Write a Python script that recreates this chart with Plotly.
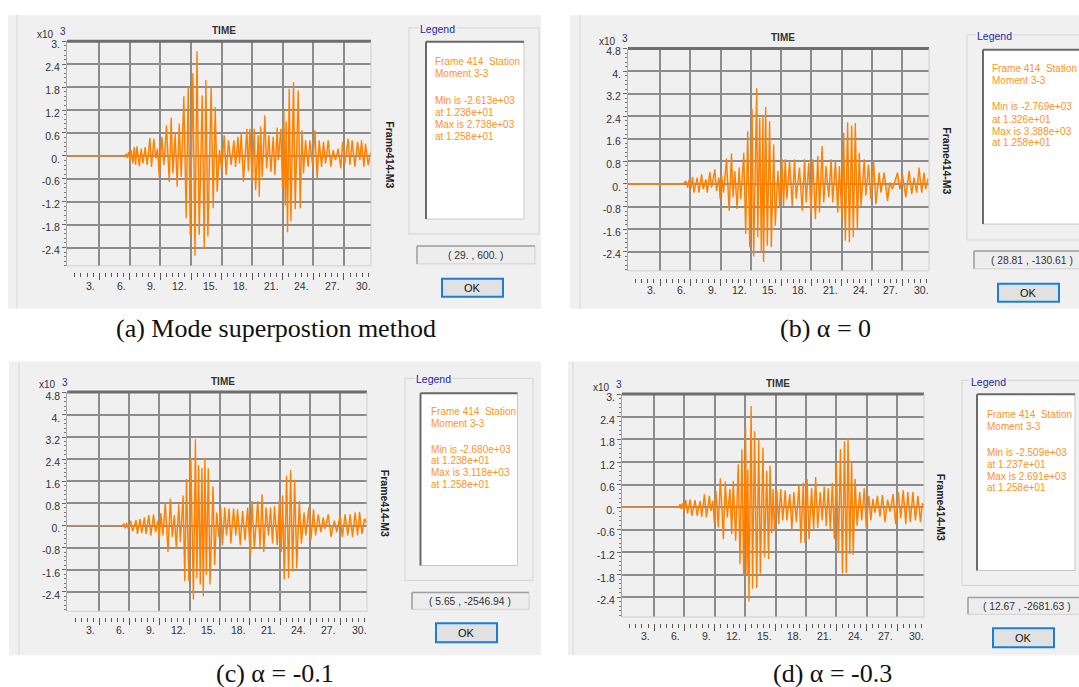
import plotly.graph_objects as go

W, H = 1079, 687

# ---------------- data (values in x10^3) ----------------
time_a = [-0.17, 5.5, 5.64, 5.74, 5.87, 6.00, 6.13, 6.29, 6.42, 6.56, 6.69, 6.92, 7.11, 7.27, 7.50, 7.70,
          7.96, 8.12, 8.35, 8.55, 8.71, 8.88, 9.14, 9.33, 9.59, 9.86, 10.05, 10.22, 10.44, 10.64, 10.84,
          11.03, 11.29, 11.52, 11.72, 11.92, 12.18, 12.38, 12.58, 12.80, 13.09, 13.29, 13.45, 13.65, 13.97,
          14.17, 14.37, 14.56, 14.79, 14.99, 15.25, 15.44, 15.67, 15.93, 16.20, 16.36, 16.59, 16.75, 16.92,
          17.14, 17.47, 17.62, 17.77, 18.00, 18.20, 18.33, 18.59, 18.69, 18.82, 18.98, 19.24, 19.41, 19.63,
          19.83, 20.06, 20.22, 20.45, 20.55, 20.81, 20.97, 21.10, 21.24, 21.33, 21.46, 21.63, 21.79, 22.05,
          22.22, 22.51, 22.71, 22.87, 23.03, 23.23, 23.49, 23.65, 23.92, 24.14, 24.37, 24.57, 24.80, 24.99,
          25.19, 25.45, 25.71, 25.94, 26.17, 26.43, 26.69, 26.86, 27.08, 27.41, 27.58, 27.80, 28.07, 28.33,
          28.56, 28.72, 28.95, 29.11, 29.37, 29.63]
m3_a = [0, 0, 0.05, -0.05, 0.10, -0.12, 0.15, -0.20, 0.23, -0.24, 0.25, -0.27, 0.19, -0.20, 0.23, -0.24,
        0.47, -0.29, 0.45, -0.07, 0.19, -0.55, 0.50, -0.24, 0.80, -0.68, 1.00, -0.46, 0.58, -0.81, 0.84,
        -0.55, 1.56, -1.63, 1.82, -2.07, 2.17, -2.613, 2.738, -2.07, 1.58, -2.44, 1.99, -2.11, 1.80,
        -1.37, 1.28, -0.94, 0.15, -0.37, 0.54, -0.50, 0.41, -0.24, 0.41, -0.29, 0.50, -0.20, 0.58,
        -0.68, 0.71, -0.40, 0.71, -0.68, 0.71, -0.90, 0.54, -1.07, 0.77, -0.55, 1.06, -0.33, 0.54,
        -0.42, 0.50, -0.50, 0.74, -0.11, 0.71, -0.85, 1.19, -1.30, 0.90, -2.00, 1.76, -1.72, 1.93,
        -1.40, 1.71, -1.37, 0.67, -0.46, 0.41, -0.29, 0.41, -0.24, 0.67, -0.59, 0.41, -0.29, 0.37,
        -0.20, 0.41, -0.29, 0.15, -0.11, 0.19, -0.33, 0.37, -0.20, 0.45, -0.24, 0.41, -0.29, 0.37,
        -0.11, 0.41, -0.29, 0.32, -0.24, 0.10]

time_b = [-0.17, 5.3, 5.57, 5.74, 5.90, 6.07, 6.23, 6.36, 6.69, 6.86, 7.12, 7.28, 7.55, 7.68, 7.94, 8.11,
          8.43, 8.60, 8.83, 8.96, 9.09, 9.29, 9.59, 9.85, 10.08, 10.24, 10.41, 10.64, 10.84, 11.00, 11.30,
          11.49, 11.69, 11.89, 12.12, 12.28, 12.58, 12.68, 12.88, 13.04, 13.20, 13.26, 13.47, 13.63, 13.86,
          14.03, 14.26, 14.42, 14.68, 14.85, 15.08, 15.24, 15.41, 15.57, 15.84, 16.10, 16.33, 16.49, 16.82,
          17.09, 17.32, 17.48, 17.74, 17.97, 18.14, 18.40, 18.63, 18.80, 19.06, 19.22, 19.45, 19.72, 19.95,
          20.11, 20.38, 20.61, 20.77, 21.03, 21.20, 21.36, 21.59, 21.76, 21.99, 22.15, 22.35, 22.55, 22.74,
          22.91, 23.24, 23.40, 23.66, 23.89, 24.16, 24.39, 24.72, 24.88, 25.21, 25.54, 25.77, 26.03, 26.53,
          26.76, 27.02, 27.35, 27.68, 27.94, 28.17, 28.43, 28.66, 28.93, 29.16, 29.32, 29.55]
m3_b = [0, 0, 0.10, -0.13, 0.16, -0.16, 0.25, -0.31, 0.22, -0.31, 0.34, -0.19, 0.16, -0.31, 0.42, -0.13,
        0.52, -0.25, 0.22, -0.54, 0.34, -0.31, 0.90, -0.95, 1.08, -0.48, 0.46, -0.89, 0.58, -0.54, 1.10,
        -1.77, 1.87, -2.24, 2.66, -2.57, 3.388, -1.89, 2.34, -2.42, 2.42, -2.769, 2.73, -2.19, 2.22,
        -2.24, 1.40, -1.48, 0.46, -0.78, 0.89, -0.78, 0.87, -0.54, 0.81, -0.78, 0.87, -0.52, 0.58,
        -0.95, 0.87, -0.66, 0.75, -1.07, 0.87, -1.25, 0.99, -1.01, 1.34, -0.66, 0.63, -0.48, 0.87,
        -0.66, 0.81, -1.01, 0.63, -1.25, 1.81, -2.01, 2.19, -2.07, 2.07, -1.89, 2.16, -1.60, 1.10,
        -0.78, 0.87, -0.42, 0.69, -0.54, 0.81, -0.72, 0.40, -0.31, 0.40, -0.60, 0.05, -0.19, 0.40,
        -0.19, 0.34, -0.48, 0.46, -0.36, 0.22, -0.31, 0.58, -0.31, 0.40, -0.19, 0.19]

time_c = [-0.17, 5.3, 5.46, 5.60, 5.73, 5.90, 6.13, 6.33, 6.67, 6.80, 7.07, 7.24, 7.50, 7.67, 7.94, 8.14,
          8.41, 8.61, 8.84, 8.98, 9.14, 9.34, 9.58, 9.85, 10.08, 10.28, 10.48, 10.68, 10.92, 11.08, 11.35,
          11.52, 11.69, 11.92, 12.12, 12.38, 12.58, 12.72, 12.89, 13.06, 13.22, 13.36, 13.52, 13.66, 13.86,
          14.03, 14.33, 14.49, 14.70, 14.90, 15.10, 15.26, 15.50, 15.67, 15.93, 16.10, 16.37, 16.60, 16.77,
          17.04, 17.27, 17.51, 17.77, 18.04, 18.21, 18.44, 18.78, 19.01, 19.21, 19.38, 19.61, 19.85, 20.05,
          20.25, 20.45, 20.72, 20.95, 21.12, 21.25, 21.42, 21.65, 21.85, 22.05, 22.25, 22.45, 22.66, 22.92,
          23.12, 23.39, 23.56, 23.86, 24.06, 24.33, 24.53, 24.80, 25.06, 25.30, 25.47, 25.80, 26.07, 26.40,
          26.64, 26.97, 27.20, 27.47, 27.74, 27.97, 28.21, 28.47, 28.71, 28.91, 29.15, 29.40, 29.63]
m3_c = [0, 0, 0.06, -0.10, 0.10, -0.12, 0.18, -0.21, 0.20, -0.30, 0.24, -0.27, 0.30, -0.30, 0.38, -0.36,
        0.41, -0.24, 0.18, -0.50, 0.45, -0.36, 0.83, -0.95, 0.97, -0.41, 0.38, -0.83, 0.77, -0.59, 1.09,
        -2.01, 1.68, -2.01, 2.43, -2.680, 3.118, -1.90, 2.19, -2.13, 2.07, -2.55, 2.43, -1.78, 2.07,
        -2.13, 1.42, -1.42, 0.47, -0.41, 0.65, -0.71, 0.65, -0.36, 0.62, -0.65, 0.62, -0.36, 0.59,
        -0.71, 0.53, -0.53, 0.65, -1.07, 0.89, -0.83, 0.89, -0.77, 1.13, -0.95, 0.65, -0.36, 0.65,
        -0.65, 0.71, -0.71, 0.95, -0.95, 1.09, -1.95, 1.80, -1.90, 2.01, -1.66, 1.66, -1.54, 0.89,
        -0.65, 0.47, -0.36, 0.65, -0.53, 0.59, -0.36, 0.41, -0.24, 0.30, -0.12, 0.41, -0.41, 0.18,
        -0.24, 0.36, -0.41, 0.41, -0.36, 0.41, -0.41, 0.47, -0.36, 0.50, -0.30, 0.25, 0.10]

time_d = [-0.17, 5.45, 5.57, 5.67, 5.80, 5.93, 6.13, 6.30, 6.56, 6.72, 7.05, 7.25, 7.54, 7.70, 7.97, 8.16,
          8.46, 8.62, 8.79, 8.95, 9.11, 9.34, 9.54, 9.84, 10.03, 10.23, 10.49, 10.66, 10.82, 11.05, 11.31,
          11.48, 11.67, 11.84, 12.03, 12.18, 12.25, 12.37, 12.58, 12.72, 12.92, 13.13, 13.33, 13.49, 13.75,
          13.90, 14.12, 14.30, 14.45, 14.60, 14.75, 14.88, 15.11, 15.30, 15.50, 15.70, 15.95, 16.10, 16.40,
          16.60, 16.80, 17.05, 17.30, 17.50, 17.72, 17.90, 18.10, 18.30, 18.55, 18.75, 18.95, 19.15, 19.40,
          19.60, 19.80, 20.00, 20.20, 20.40, 20.60, 20.80, 21.00, 21.20, 21.40, 21.60, 21.80, 21.98, 22.15,
          22.32, 22.50, 22.66, 22.85, 23.05, 23.30, 23.50, 23.75, 23.95, 24.20, 24.40, 24.60, 24.80, 25.05,
          25.30, 25.55, 25.80, 26.05, 26.30, 26.60, 26.85, 27.10, 27.35, 27.60, 27.85, 28.05, 28.30, 28.55,
          28.80, 29.05, 29.30, 29.50, 29.63]
m3_d = [0, 0, 0.08, -0.05, 0.10, -0.08, 0.19, -0.17, 0.21, -0.23, 0.19, -0.23, 0.17, -0.26, 0.34, -0.27,
        0.30, -0.10, 0.17, -0.41, 0.43, -0.54, 0.77, -0.85, 0.68, -0.27, 0.48, -0.72, 0.70, -0.89, 1.14,
        -1.51, 1.54, -1.82, 2.15, -1.80, 1.00, -2.509, 2.691, -2.17, 2.02, -2.15, 1.80, -1.77, 1.58,
        -1.33, 0.96, -1.38, 1.10, -0.70, 0.48, -0.62, 0.46, -0.45, 0.48, -0.35, 0.45, -0.35, 0.35,
        -0.60, 0.40, -0.40, 0.60, -0.95, 0.65, -0.95, 0.75, -0.85, 0.50, -0.60, 0.80, -0.55, 0.40,
        -0.35, 0.55, -0.50, 0.50, -0.60, 0.65, -0.85, 1.15, -1.20, 1.55, -1.76, 1.75, -1.75, 1.83,
        -1.25, 1.20, -1.27, 0.75, -0.50, 0.40, -0.35, 0.50, -0.55, 0.30, -0.35, 0.22, -0.15, 0.30,
        -0.25, 0.32, -0.40, 0.20, -0.12, 0.35, -0.45, 0.40, -0.30, 0.45, -0.45, 0.40, -0.40, 0.40,
        -0.35, 0.30, -0.40, 0.10, 0.05]

ytick_vals_small = [3.0, 2.4, 1.8, 1.2, 0.6, 0.0, -0.6, -1.2, -1.8, -2.4]
ytick_text_small = ["3.", "2.4", "1.8", "1.2", "0.6", "0.", "-0.6", "-1.2", "-1.8", "-2.4"]
ytick_vals_big = [4.8, 4.0, 3.2, 2.4, 1.6, 0.8, 0.0, -0.8, -1.6, -2.4]
ytick_text_big = ["4.8", "4.", "3.2", "2.4", "1.6", "0.8", "0.", "-0.8", "-1.6", "-2.4"]
xgrid_vals = [3, 6, 9, 12, 15, 18, 21, 24, 27]
xlabel_vals = [3, 6, 9, 12, 15, 18, 21, 24, 27, 30]
xlabel_text = ["3.", "6.", "9.", "12.", "15.", "18.", "21.", "24.", "27.", "30."]
ruler_minor = [0.6, 1.2, 1.8, 2.4, 3.6, 4.2, 4.8, 5.4, 6.6, 7.2, 7.8, 8.4, 9.6, 10.2, 10.8, 11.4,
               12.6, 13.2, 13.8, 14.4, 15.6, 16.2, 16.8, 17.4, 18.6, 19.2, 19.8, 20.4, 21.6, 22.2,
               22.8, 23.4, 24.6, 25.2, 25.8, 26.4, 27.6, 28.2, 28.8, 29.4]

legend_a = ["Frame 414\u00a0\u00a0Station", "Moment 3-3", "Min is -2.613e+03", "at 1.238e+01", "Max is 2.738e+03", "at 1.258e+01"]
legend_b = ["Frame 414\u00a0\u00a0Station", "Moment 3-3", "Min is -2.769e+03", "at 1.326e+01", "Max is 3.388e+03", "at 1.258e+01"]
legend_c = ["Frame 414\u00a0\u00a0Station", "Moment 3-3", "Min is -2.680e+03", "at 1.238e+01", "Max is 3.118e+03", "at 1.258e+01"]
legend_d = ["Frame 414\u00a0\u00a0Station", "Moment 3-3", "Min is -2.509e+03", "at 1.237e+01", "Max is 2.691e+03", "at 1.258e+01"]
coord_texts = ["( 29. , 600. )", "( 28.81 , -130.61 )", "( 5.65 , -2546.94 )", "( 12.67 , -2681.63 )"]
captions = ["(a) Mode superpostion method", "(b) \u03b1 = 0", "(c) \u03b1 = -0.1", "(d) \u03b1 = -0.3"]

# ---------------- layout geometry (pixels) ----------------
panels = [
    dict(t=time_a, v=m3_a, legend=legend_a, yv=ytick_vals_small, yt=ytick_text_small, yr=[-2.88, 3.0], minor=0.12,
         plot=(67, 371, 38.5, 264), ruler=270, xlab=284, gray=(8, 541, 12, 307), edge=17,
         time=(224, 28), x10=(45.5, 32), sup=(63, 29), side=(390, 152), grp=(409, 539, 25, 232), grplab=(418, 26),
         white=(426, 524, 39, 217), ltx=433, lty=[59, 71, 98, 110, 122, 134], coord=(417, 535, 244, 262, 476),
         ok=(442, 503, 277, 295), cap=(276, 327)),
    dict(t=time_b, v=m3_b, legend=legend_b, yv=ytick_vals_big, yt=ytick_text_big, yr=[-3.08, 4.80], minor=0.16,
         plot=(628, 929, 45.7, 269), ruler=276, xlab=288, gray=(570, 1079, 12, 307), edge=580,
         time=(783, 35), x10=(607, 39), sup=(625, 36), side=(947, 158), grp=(967, 1095, 32, 238), grplab=(975, 33),
         white=(983, 1095, 47, 222), ltx=990, lty=[66, 78, 104, 117, 129, 140], coord=(974, 1095, 249, 267, 1032),
         ok=(998, 1059, 282, 300), cap=(825, 327)),
    dict(t=time_c, v=m3_c, legend=legend_c, yv=ytick_vals_big, yt=ytick_text_big, yr=[-3.10, 4.83], minor=0.16,
         plot=(67.3, 367, 390.7, 611), ruler=617, xlab=630, gray=(9, 541, 360, 655), edge=19,
         time=(223, 380), x10=(47, 383), sup=(65, 381), side=(385, 502), grp=(405, 533, 377, 580), grplab=(414, 378),
         white=(420.5, 517.5, 392, 565), ltx=428.5, lty=[410, 422, 448, 460, 472, 484], coord=(412, 529, 592, 609, 470),
         ok=(436, 497, 623, 642), cap=(275, 673)),
    dict(t=time_d, v=m3_d, legend=legend_d, yv=ytick_vals_small, yt=ytick_text_small, yr=[-2.92, 3.01], minor=0.12,
         plot=(622, 924, 392.7, 616.7), ruler=623, xlab=636, gray=(568, 1079, 360, 655), edge=573,
         time=(778, 382), x10=(601, 386), sup=(619, 383), side=(941, 506), grp=(962, 1095, 379, 585), grplab=(969, 381),
         white=(977, 1075, 393, 570), ltx=985, lty=[413, 425, 451, 464, 476, 487], coord=(968, 1095, 597, 614, 1027),
         ok=(993, 1054, 628, 647), cap=(832, 673)),
]

XR = [-0.17, 29.65]
UI = "Liberation Sans, Arial, sans-serif"
SERIF = "Liberation Serif, Times New Roman, serif"
LINE = "#ff8000"
FILL = "rgba(255,150,40,0.38)"
TXT_OR = "#ff9326"


def fx(x):
    return x / W


def fy(y):
    return 1 - y / H


fig = go.Figure()
shapes = []
ann = []
layout = dict(width=W, height=H, margin=dict(l=0, r=0, t=0, b=0), paper_bgcolor="white",
              plot_bgcolor="white", showlegend=False)


def rect(x0, x1, y0, y1, fill=None, line=None, lw=1, layer="below"):
    shapes.append(dict(type="rect", xref="paper", yref="paper", x0=fx(x0), x1=fx(x1), y0=fy(y1), y1=fy(y0),
                       fillcolor=fill if fill else "rgba(0,0,0,0)",
                       line=dict(color=line if line else "rgba(0,0,0,0)", width=lw), layer=layer))


def seg(x0, y0, x1, y1, color, lw=1, layer="below"):
    shapes.append(dict(type="line", xref="paper", yref="paper", x0=fx(x0), x1=fx(x1), y0=fy(y0), y1=fy(y1),
                       line=dict(color=color, width=lw), layer=layer))


def text(x, y, s, size=10, color="#222", anchor="center", family=UI, angle=0, bg=None):
    d = dict(x=fx(x), y=fy(y), xref="paper", yref="paper", text=s, showarrow=False, xanchor=anchor,
             yanchor="middle", font=dict(size=size, color=color, family=family), textangle=angle)
    if bg:
        d["bgcolor"] = bg
    ann.append(d)


for i, p in enumerate(panels, start=1):
    xa = "x" if i == 1 else f"x{i}"
    ya = "y" if i == 1 else f"y{i}"
    L, R, T, B = p["plot"]
    # dialog background
    g = p["gray"]
    rect(g[0], g[1], g[2], g[3], fill="#f0f0f0")
    seg(p["edge"], g[2], p["edge"], g[3], "#d9d9d9", 1)
    # legend group box
    gx0, gx1, gy0, gy1 = p["grp"]
    rect(gx0, gx1, gy0, gy1, line="#d3d3d3", lw=1)
    wx0, wx1, wy0, wy1 = p["white"]
    rect(wx0, wx1, wy0, wy1, fill="white", line="#c8c8c8", lw=1)
    seg(wx0, wy0, wx1, wy0, "#6a6a6a", 2)
    seg(wx0, wy0, wx0, wy1, "#6a6a6a", 2)
    text(p["grplab"][0], p["grplab"][1], "Legend", size=10.5, color="#1f1fa8", anchor="left", bg="#f0f0f0")
    for s, yy in zip(p["legend"], p["lty"]):
        text(p["ltx"], yy, s, size=10, color=TXT_OR, anchor="left")
    # coordinate box
    cx0, cx1, cy0, cy1, cxt = p["coord"]
    rect(cx0, cx1, cy0, cy1, fill="#ededed", line="#d0d0d0", lw=1)
    seg(cx0, cy0, cx1, cy0, "#a0a0a0", 1.5)
    seg(cx0, cy0, cx0, cy1, "#a0a0a0", 1.5)
    text(cxt, (cy0 + cy1) / 2 + 0.5, coord_texts[i - 1], size=10.3, color="#333")
    # OK button
    ox0, ox1, oy0, oy1 = p["ok"]
    rect(ox0, ox1, oy0, oy1, fill="#e1e1e1", line="#1a7fd4", lw=2)
    text((ox0 + ox1) / 2, (oy0 + oy1) / 2 + 0.5, "OK", size=11, color="#111")
    # titles
    text(p["time"][0], p["time"][1], "<b>TIME</b>", size=10, color="#333")
    text(p["x10"][0], p["x10"][1], "x10", size=10, color="#333")
    text(p["sup"][0], p["sup"][1], "3", size=10, color="#2a2f7a")
    text(p["side"][0], p["side"][1], "<b>Frame414-M3</b>", size=10.5, color="#222", angle=90)
    text(p["cap"][0], p["cap"][1], captions[i - 1], size=26, color="#111", family=SERIF)
    # x labels under the ruler (placed on the same linear time scale as the plot)
    for v, s in zip(xlabel_vals, xlabel_text):
        xpix = L + (v - XR[0]) / (XR[1] - XR[0]) * (R - L)
        ann.append(dict(x=fx(xpix), y=fy(p["xlab"]), xref="paper", yref="paper", text=s, showarrow=False,
                        xanchor="right", yanchor="middle", xshift=-2,
                        font=dict(size=10.5, color="#333", family=UI)))
    # plot frame
    shapes.append(dict(type="line", xref=f"{xa} domain", yref=f"{ya} domain", x0=0, x1=1, y0=1, y1=1,
                       line=dict(color="#6e6e6e", width=3), layer="above"))
    shapes.append(dict(type="line", xref=f"{xa} domain", yref=f"{ya} domain", x0=1, x1=1, y0=0, y1=1,
                       line=dict(color="#cfcfcf", width=1), layer="above"))
    shapes.append(dict(type="line", xref=f"{xa} domain", yref=f"{ya} domain", x0=0, x1=1, y0=0, y1=0,
                       line=dict(color="#cfcfcf", width=1), layer="above"))

    fig.add_trace(go.Scatter(x=p["t"], y=p["v"], mode="lines", xaxis=xa, yaxis=ya,
                             fill="tozeroy", fillcolor=FILL,
                             line=dict(color=LINE, width=1.4), hoverinfo="skip"))

    layout["xaxis" if i == 1 else f"xaxis{i}"] = dict(
        domain=[fx(L), fx(R)], range=XR, anchor="free", position=fy(p["ruler"]),
        tickmode="array", tickvals=xgrid_vals, showticklabels=False,
        ticks="outside", ticklen=7, tickwidth=1, tickcolor="#555",
        showgrid=True, gridcolor="#8c8c8c", gridwidth=1.5, zeroline=False, showline=False,
        minor=dict(tickmode="array", tickvals=ruler_minor, ticks="outside", ticklen=4, tickwidth=1,
                   tickcolor="#555", showgrid=False),
    )
    layout["yaxis" if i == 1 else f"yaxis{i}"] = dict(
        domain=[fy(B), fy(T)], range=p["yr"], anchor=xa,
        tickmode="array", tickvals=p["yv"], ticktext=p["yt"], ticks="outside", ticklen=4,
        tickcolor="#666", tickwidth=1, ticklabelshift=3,
        tickfont=dict(size=10.5, color="#333", family=UI),
        showgrid=True, gridcolor="#8c8c8c", gridwidth=1.5, zeroline=False,
        showline=True, linecolor="#a8a8a8", linewidth=1,
        minor=dict(dtick=p["minor"], ticks="outside", ticklen=2, tickcolor="#777", showgrid=False),
    )

layout["shapes"] = shapes
layout["annotations"] = ann
fig.update_layout(**layout)
fig.write_html("out.html", config={"displayModeBar": False})

# remove the default page margin so the figure sits at the window origin
with open("out.html", "r", encoding="utf-8") as fh:
    html = fh.read()
html = html.replace("<head>", "<head><style>html,body{margin:0;padding:0;overflow:hidden;}</style>", 1)
with open("out.html", "w", encoding="utf-8") as fh:
    fh.write(html)
